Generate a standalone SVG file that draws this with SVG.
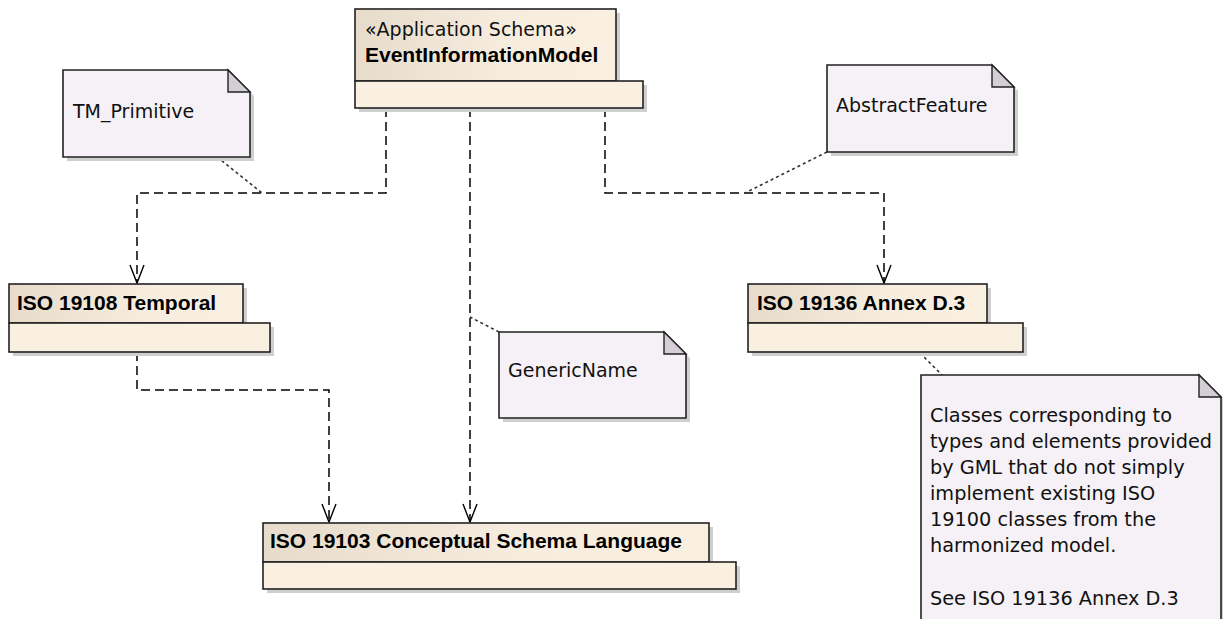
<svg xmlns="http://www.w3.org/2000/svg" width="1223" height="619" viewBox="0 0 1223 619">
<defs>
<linearGradient id="tabg" x1="0" y1="0" x2="1" y2="0">
<stop offset="0" stop-color="#e7dccb"/>
<stop offset="0.6" stop-color="#f7eddf"/>
<stop offset="1" stop-color="#faf0e2"/>
</linearGradient>
<marker id="open" markerWidth="24" markerHeight="20" refX="19" refY="8" orient="auto" markerUnits="userSpaceOnUse">
<path d="M1,1 L19,8 L1,15" fill="none" stroke="#000" stroke-width="1.4"/>
</marker>
</defs>
<style>
.tab{fill:url(#tabg);stroke:#222;stroke-width:1.6}
.body{fill:#faf0e2;stroke:#222;stroke-width:1.6}
.shadow{fill:#cfcfcf}
.note{fill:#f5f1f6;stroke:#222;stroke-width:1.6}
.fold{fill:#d3cfd4;stroke:#222;stroke-width:1.4}
.dep{fill:none;stroke:#000;stroke-width:1.5;stroke-dasharray:9,5}
.link{fill:none;stroke:#333;stroke-width:1.6;stroke-dasharray:3,3}
.t{font-family:"DejaVu Sans",sans-serif;font-size:19px;fill:#111}
.nt{font-family:"DejaVu Sans",sans-serif;font-size:19.3px;fill:#111}
.b{font-family:"Liberation Sans",Arial,sans-serif;font-size:21px;font-weight:bold;fill:#000}
</style>
<rect width="1223" height="619" fill="#fff"/>

<g id="connectors">
<path class="dep" d="M386,108 V193 H137 V283" marker-end="url(#open)"/>
<path class="dep" d="M470,108 V522" marker-end="url(#open)"/>
<path class="dep" d="M605,108 V193 H884 V283" marker-end="url(#open)"/>
<path class="dep" d="M137,352 V390 H329 V522" marker-end="url(#open)"/>
<path class="link" d="M217,157 L262,193"/>
<path class="link" d="M827,152 L745,193"/>
<path class="link" d="M499,332 L470,317"/>
<path class="link" d="M920,353 L942,375"/>
</g>

<g id="pkg-eim">
<rect class="shadow" x="359" y="13" width="261" height="72"/>
<rect class="shadow" x="359" y="85" width="288" height="27"/>
<rect class="tab" x="355" y="9" width="261" height="72"/>
<rect class="body" x="355" y="81" width="288" height="27"/>
<text class="t" x="365" y="36">«Application Schema»</text>
<text class="b" x="365" y="62">EventInformationModel</text>
</g>

<g id="pkg-19108">
<rect class="shadow" x="13" y="288" width="234" height="39"/>
<rect class="shadow" x="13" y="327" width="261" height="29"/>
<rect class="tab" x="9" y="284" width="234" height="39"/>
<rect class="body" x="9" y="323" width="261" height="29"/>
<text class="b" x="17" y="310">ISO 19108 Temporal</text>
</g>

<g id="pkg-19136">
<rect class="shadow" x="752" y="288" width="239" height="39"/>
<rect class="shadow" x="752" y="327" width="275" height="29"/>
<rect class="tab" x="748" y="284" width="239" height="39"/>
<rect class="body" x="748" y="323" width="275" height="29"/>
<text class="b" x="757" y="310">ISO 19136 Annex D.3</text>
</g>

<g id="pkg-19103">
<rect class="shadow" x="267" y="527" width="446" height="39"/>
<rect class="shadow" x="267" y="566" width="473" height="27"/>
<rect class="tab" x="263" y="523" width="446" height="39"/>
<rect class="body" x="263" y="562" width="473" height="27"/>
<text class="b" x="270" y="548">ISO 19103 Conceptual Schema Language</text>
</g>

<g id="note-tm">
<path class="shadow" d="M67,74 H232 L254,96 V161 H67 Z"/>
<path class="note" d="M63,70 H228 L250,92 V157 H63 Z"/>
<path class="fold" d="M228,70 V92 H250 Z"/>
<text class="t" x="73" y="118">TM_Primitive</text>
</g>

<g id="note-af">
<path class="shadow" d="M831,69 H996 L1018,91 V156 H831 Z"/>
<path class="note" d="M827,65 H992 L1014,87 V152 H827 Z"/>
<path class="fold" d="M992,65 V87 H1014 Z"/>
<text class="t" x="836" y="112">AbstractFeature</text>
</g>

<g id="note-gn">
<path class="shadow" d="M503,336 H668 L690,358 V422 H503 Z"/>
<path class="note" d="M499,332 H664 L686,354 V418 H499 Z"/>
<path class="fold" d="M664,332 V354 H686 Z"/>
<text class="t" x="508" y="377">GenericName</text>
</g>

<g id="note-gml">
<path class="shadow" d="M925,379 H1203 L1225,401 V630 H925 Z"/>
<path class="note" d="M921,375 H1199 L1221,397 V630 H921 Z"/>
<path class="fold" d="M1199,375 V397 H1221 Z"/>
<text class="nt" x="930" y="422">Classes corresponding to</text>
<text class="nt" x="930" y="448">types and elements provided</text>
<text class="nt" x="930" y="474">by GML that do not simply</text>
<text class="nt" x="930" y="500">implement existing ISO</text>
<text class="nt" x="930" y="526">19100 classes from the</text>
<text class="nt" x="930" y="552">harmonized model.</text>
<text class="nt" x="930" y="605">See ISO 19136 Annex D.3</text>
</g>
</svg>
